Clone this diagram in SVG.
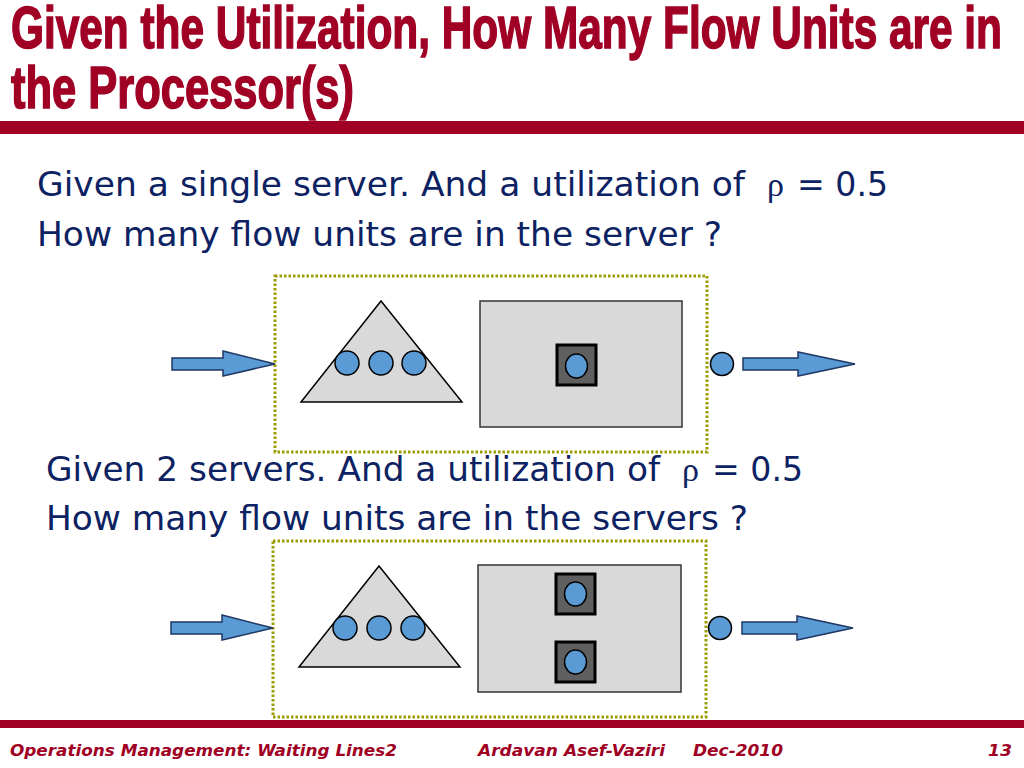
<svg xmlns="http://www.w3.org/2000/svg" width="1024" height="768" viewBox="0 0 1024 768">
<defs>
<style>
.title{font-family:"Liberation Sans",Arial,sans-serif;font-weight:bold;font-size:60px;fill:#A00024;stroke:#A00024;stroke-width:1.6}
.body{font-family:"DejaVu Sans",Verdana,sans-serif;font-size:33px;fill:#0D2262}
.rho{font-family:"Liberation Serif","DejaVu Serif",serif;font-size:34px}
.foot{font-family:"DejaVu Sans",Verdana,sans-serif;font-weight:bold;font-style:italic;font-size:16px;fill:#A00024}
.frame{fill:none;stroke:#9C9C00;stroke-width:3;stroke-dasharray:2.5 2}
.shape{fill:#D9D9D9;stroke:#000;stroke-width:1.5}
.box{fill:#D9D9D9;stroke:#333;stroke-width:1.5}
.unit{fill:#5B9BD5;stroke:#000;stroke-width:1.5}
.srv{fill:#5F5F5F;stroke:#000;stroke-width:3}
.arrow{fill:#5B9BD5;stroke:#1F3864;stroke-width:1.5}
</style>
</defs>
<rect width="1024" height="768" fill="#fff"/>
<g id="title">
<text class="title" x="11" y="48" textLength="991" lengthAdjust="spacingAndGlyphs">Given the Utilization, How Many Flow Units are in</text>
<text class="title" x="11" y="108" textLength="343" lengthAdjust="spacingAndGlyphs">the Processor(s)</text>
</g>
<rect x="0" y="121" width="1024" height="13" fill="#A00024"/>
<rect x="0" y="720" width="1024" height="8" fill="#A00024"/>
<g id="text1">
<text class="body" x="37" y="196" textLength="708" lengthAdjust="spacingAndGlyphs">Given a single server. And a utilization of</text>
<text class="body rho" x="767" y="196">ρ</text>
<text class="body" x="797" y="196" textLength="91" lengthAdjust="spacingAndGlyphs">= 0.5</text>
<text class="body" x="37" y="246" textLength="685" lengthAdjust="spacingAndGlyphs">How many flow units are in the server ?</text>
</g>
<g id="text2">
<text class="body" x="46" y="481" textLength="614" lengthAdjust="spacingAndGlyphs">Given 2 servers. And a utilization of</text>
<text class="body rho" x="682" y="481">ρ</text>
<text class="body" x="712" y="481" textLength="91" lengthAdjust="spacingAndGlyphs">= 0.5</text>
<text class="body" x="46" y="530" textLength="702" lengthAdjust="spacingAndGlyphs">How many flow units are in the servers ?</text>
</g>
<g id="system1">
<rect class="frame" x="275" y="276" width="432" height="176"/>
<g id="queue1">
<polygon class="shape" points="381,301 462,402 301,402"/>
<circle class="unit" cx="347" cy="363" r="12"/>
<circle class="unit" cx="381" cy="363" r="12"/>
<circle class="unit" cx="414" cy="363" r="12"/>
</g>
<g id="processor1">
<rect class="box" x="480" y="301" width="202" height="126"/>
<rect class="srv" x="557" y="345" width="39" height="40"/>
<ellipse class="unit" cx="576.5" cy="366" rx="11" ry="12"/>
</g>
</g>
<g id="system2">
<rect class="frame" x="273" y="541" width="433" height="176"/>
<g id="queue2">
<polygon class="shape" points="379,566 460,667 299,667"/>
<circle class="unit" cx="345" cy="628" r="12"/>
<circle class="unit" cx="379" cy="628" r="12"/>
<circle class="unit" cx="413" cy="628" r="12"/>
</g>
<g id="processor2">
<rect class="box" x="478" y="565" width="203" height="127"/>
<rect class="srv" x="556" y="574" width="39" height="40"/>
<ellipse class="unit" cx="575.5" cy="594" rx="11" ry="12"/>
<rect class="srv" x="556" y="642" width="39" height="40"/>
<ellipse class="unit" cx="575.5" cy="662" rx="11" ry="12"/>
</g>
</g>
<g id="outputs">
<circle class="unit" cx="722" cy="364" r="11.5"/>
<circle class="unit" cx="720" cy="628" r="11.5"/>
</g>
<g id="connectors">
<polygon class="arrow" points="172,358 223,358 223,351 275,364 223,376 223,370 172,370"/>
<polygon class="arrow" points="743,358 798,358 798,352 855,364 798,376 798,370 743,370"/>
<polygon class="arrow" points="171,622 222,622 222,615 273,628 222,640 222,634 171,634"/>
<polygon class="arrow" points="742,622 797,622 797,616 853,628 797,640 797,634 742,634"/>
</g>
<g id="footer">
<text class="foot" x="10" y="756" textLength="387" lengthAdjust="spacingAndGlyphs">Operations Management: Waiting Lines2</text>
<text class="foot" x="478" y="756" textLength="187" lengthAdjust="spacingAndGlyphs">Ardavan Asef-Vaziri</text>
<text class="foot" x="693" y="756" textLength="90" lengthAdjust="spacingAndGlyphs">Dec-2010</text>
<text class="foot" x="988" y="756" textLength="24" lengthAdjust="spacingAndGlyphs">13</text>
</g>
</svg>
